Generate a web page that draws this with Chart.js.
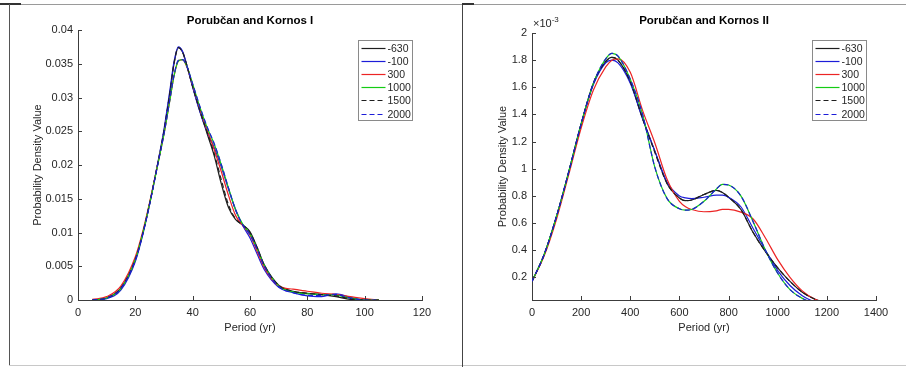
<!DOCTYPE html>
<html>
<head>
<meta charset="utf-8">
<script src="https://cdn.jsdelivr.net/npm/chart.js@4.4.0/dist/chart.umd.min.js"></script>
<style>
  html, body { margin: 0; padding: 0; background: #fff; }
  #wrap { position: relative; width: 906px; height: 367px; overflow: hidden; background: #fff; }
  .pane { position: absolute; top: 0; }
  .rule { position: absolute; }
</style>
</head>
<body>
<div id="wrap">
  <div class="pane" style="left:0;"><canvas id="chartI" width="462" height="367"></canvas></div>
  <div class="pane" style="left:462px;"><canvas id="chartII" width="444" height="367"></canvas></div>
  <div class="rule" style="left:9px; top:4px; width:897px; height:1px; background:#9a9a9a;"></div>
  <div class="rule" style="left:0; top:3px; width:21px; height:2px; background:#333;"></div>
  <div class="rule" style="left:9px; top:4px; width:1px; height:362px; background:#555;"></div>
  <div class="rule" style="left:9px; top:365px; width:897px; height:1px; background:#c8c8c8;"></div>
  <div class="rule" style="left:462px; top:4px; width:1px; height:363px; background:#444;"></div>
  <div class="rule" style="left:462px; top:3px; width:12px; height:2px; background:#333;"></div>
</div>
<script>
// Porubčan and Kornos I: period (yr) vs probability density
const periodsI = [5, 10, 15, 20, 22.5, 25, 27.5, 30, 32, 33.5, 35, 36.5, 38, 40, 42.5, 45, 47.5, 50, 52.5, 55, 57.5, 60, 62.5, 65, 70, 75, 80, 85, 90, 95, 100, 105];
const pdfI_m630 = [0, 0.0003, 0.0018, 0.0060, 0.0097, 0.0143, 0.0195, 0.0250, 0.0305, 0.0350, 0.0374, 0.0367, 0.0347, 0.0316, 0.0280, 0.0247, 0.0214, 0.0172, 0.0137, 0.0119, 0.0111, 0.0101, 0.0078, 0.0052, 0.0022, 0.0013, 0.0010, 0.0008, 0.0005, 0.0001, 0, 0];
const pdfI_m100 = [0, 0.0002, 0.0015, 0.0057, 0.0095, 0.0142, 0.0196, 0.0253, 0.0309, 0.0353, 0.0375, 0.0368, 0.0347, 0.0315, 0.0279, 0.0250, 0.0226, 0.0197, 0.0164, 0.0134, 0.0110, 0.0092, 0.0068, 0.0045, 0.0019, 0.0011, 0.0006, 0.0005, 0.0009, 0.0004, 0, 0];
const pdfI_300  = [0.0001, 0.0005, 0.0021, 0.0064, 0.0100, 0.0145, 0.0195, 0.0246, 0.0295, 0.0332, 0.0354, 0.0356, 0.0345, 0.0318, 0.0283, 0.0252, 0.0223, 0.0190, 0.0155, 0.0125, 0.0110, 0.0096, 0.0072, 0.0048, 0.0021, 0.0016, 0.0013, 0.0010, 0.0008, 0.0005, 0.0002, 0];
const pdfI_1000 = [0, 0.0003, 0.0017, 0.0060, 0.0097, 0.0143, 0.0194, 0.0246, 0.0295, 0.0332, 0.0354, 0.0356, 0.0346, 0.0320, 0.0286, 0.0256, 0.0231, 0.0200, 0.0166, 0.0133, 0.0112, 0.0098, 0.0076, 0.0051, 0.0021, 0.0012, 0.0009, 0.0008, 0.0007, 0.0003, 0, 0];
const pdfI_1500 = [0, 0.0003, 0.0018, 0.0060, 0.0097, 0.0143, 0.0195, 0.0251, 0.0306, 0.0351, 0.0374, 0.0367, 0.0347, 0.0316, 0.0281, 0.0249, 0.0217, 0.0178, 0.0141, 0.0120, 0.0111, 0.0100, 0.0077, 0.0051, 0.0022, 0.0013, 0.0010, 0.0008, 0.0006, 0.0002, 0, 0];
const pdfI_2000 = [0, 0.0003, 0.0017, 0.0059, 0.0096, 0.0142, 0.0194, 0.0246, 0.0296, 0.0333, 0.0355, 0.0356, 0.0346, 0.0320, 0.0287, 0.0257, 0.0232, 0.0201, 0.0166, 0.0133, 0.0111, 0.0097, 0.0075, 0.0050, 0.0020, 0.0011, 0.0007, 0.0007, 0.0008, 0.0003, 0, 0];

// Porubčan and Kornos II: density in units of 1e-3
const periodsII = [0, 50, 100, 150, 200, 250, 300, 325, 350, 400, 450, 500, 550, 600, 625, 650, 700, 750, 775, 800, 850, 900, 950, 1000, 1050, 1100, 1150, 1200];
const pdfII_m630 = [0.17, 0.37, 0.65, 0.98, 1.33, 1.63, 1.79, 1.82, 1.80, 1.64, 1.37, 1.13, 0.89, 0.785, 0.765, 0.77, 0.81, 0.84, 0.825, 0.79, 0.70, 0.53, 0.39, 0.27, 0.17, 0.09, 0.04, 0.01];
const pdfII_m100 = [0.17, 0.37, 0.65, 0.98, 1.33, 1.62, 1.78, 1.80, 1.78, 1.63, 1.37, 1.13, 0.90, 0.80, 0.785, 0.78, 0.79, 0.805, 0.805, 0.79, 0.72, 0.56, 0.40, 0.25, 0.14, 0.065, 0.02, 0.0];
const pdfII_300  = [0.17, 0.36, 0.63, 0.96, 1.30, 1.58, 1.75, 1.80, 1.81, 1.71, 1.43, 1.19, 0.92, 0.76, 0.72, 0.70, 0.683, 0.69, 0.70, 0.70, 0.68, 0.63, 0.49, 0.33, 0.20, 0.10, 0.04, 0.01];
const pdfII_1000 = [0.17, 0.37, 0.65, 0.98, 1.33, 1.63, 1.81, 1.85, 1.83, 1.66, 1.40, 1.01, 0.78, 0.705, 0.695, 0.70, 0.76, 0.85, 0.885, 0.88, 0.80, 0.61, 0.40, 0.23, 0.11, 0.045, 0.01, 0.0];
const pdfII_1500 = [0.17, 0.37, 0.65, 0.98, 1.33, 1.63, 1.79, 1.82, 1.80, 1.64, 1.37, 1.12, 0.89, 0.785, 0.765, 0.77, 0.81, 0.84, 0.825, 0.79, 0.70, 0.53, 0.39, 0.27, 0.17, 0.09, 0.04, 0.01];
const pdfII_2000 = [0.17, 0.37, 0.65, 0.98, 1.33, 1.63, 1.81, 1.85, 1.83, 1.66, 1.40, 1.01, 0.78, 0.705, 0.695, 0.70, 0.76, 0.85, 0.885, 0.88, 0.80, 0.61, 0.40, 0.23, 0.11, 0.045, 0.01, 0.0];

const epochLabels = ['-630', '-100', '300', '1000', '1500', '2000'];
const lineColors = ['#1e1e1e', '#1c1cd8', '#ec2424', '#14cc14', '#1e1e1e', '#1c1cd8'];
const lineDashes = [[], [], [], [], [5, 3], [5, 3]];

const FONT = '"Liberation Sans", Arial, Helvetica, sans-serif';
const TEXT = '#262626';

function toPoints(xs, ys) {
  return xs.map((x, i) => ({ x: x, y: ys[i] }));
}

function buildDatasets(xs, series) {
  return series.map((ys, i) => ({
    label: epochLabels[i],
    data: toPoints(xs, ys),
    borderColor: lineColors[i],
    borderDash: lineDashes[i],
    borderWidth: 1.2,
    pointRadius: 0,
    fill: false,
    cubicInterpolationMode: 'monotone',
    order: series.length - i
  }));
}

// inward tick marks, title, exponent note and boxed legend
const matlabLook = {
  id: 'matlabLook',
  afterDraw(chart, args, opts) {
    const ctx = chart.ctx;
    const a = chart.chartArea;
    const xs = chart.scales.x, ys = chart.scales.y;
    ctx.save();

    ctx.strokeStyle = '#3c3c3c';
    ctx.lineWidth = 1;
    ctx.beginPath();
    xs.ticks.forEach(t => {
      const px = Math.round(xs.getPixelForValue(t.value)) + 0.5;
      ctx.moveTo(px, a.bottom);
      ctx.lineTo(px, a.bottom - 4);
    });
    ys.ticks.forEach(t => {
      const py = Math.round(ys.getPixelForValue(t.value)) + 0.5;
      ctx.moveTo(a.left, py);
      ctx.lineTo(a.left + 4, py);
    });
    ctx.stroke();

    ctx.fillStyle = '#000';
    ctx.font = 'bold 11.5px ' + FONT;
    ctx.textAlign = 'center';
    ctx.textBaseline = 'middle';
    ctx.fillText(opts.title, (a.left + a.right) / 2, 21);

    if (opts.exponent) {
      ctx.fillStyle = TEXT;
      ctx.textAlign = 'left';
      ctx.textBaseline = 'alphabetic';
      ctx.font = '11px ' + FONT;
      ctx.fillText('\u00d710', a.left + 1, 27);
      const w = ctx.measureText('\u00d710').width;
      ctx.font = '8px ' + FONT;
      ctx.fillText(opts.exponent, a.left + 1 + w, 21.5);
    }

    const bw = 54, bh = 80;
    const bx = Math.round(a.right - 10 - bw) + 0.5, by = 40.5;
    ctx.fillStyle = '#fff';
    ctx.fillRect(bx, by, bw, bh);
    ctx.strokeStyle = '#8a8a8a';
    ctx.lineWidth = 1;
    ctx.strokeRect(bx, by, bw, bh);
    ctx.font = '10.5px ' + FONT;
    ctx.textAlign = 'left';
    ctx.textBaseline = 'middle';
    chart.data.datasets.forEach((ds, i) => {
      const ly = Math.round(by + 7.5 + i * 13.1) + 0.5;
      ctx.strokeStyle = ds.borderColor;
      ctx.setLineDash(ds.borderDash);
      ctx.lineWidth = 1.2;
      ctx.beginPath();
      ctx.moveTo(bx + 3, ly);
      ctx.lineTo(bx + 27, ly);
      ctx.stroke();
      ctx.setLineDash([]);
      ctx.fillStyle = TEXT;
      ctx.fillText(ds.label, bx + 29, ly + 0.5);
    });
    ctx.restore();
  }
};

function makeChart(canvasId, cfg) {
  return new Chart(document.getElementById(canvasId), {
    type: 'line',
    data: { datasets: cfg.datasets },
    options: {
      responsive: false,
      animation: false,
      layout: { padding: cfg.padding },
      plugins: {
        legend: { display: false },
        tooltip: { enabled: false },
        matlabLook: { title: cfg.title, exponent: cfg.exponent }
      },
      scales: {
        x: {
          type: 'linear',
          min: cfg.xMin,
          max: cfg.xMax,
          afterFit: s => { s.height = 40; },
          border: { display: true, color: '#3c3c3c', width: 1 },
          grid: { drawOnChartArea: false, drawTicks: false },
          ticks: {
            stepSize: cfg.xStep,
            padding: 6,
            maxRotation: 0,
            autoSkip: false,
            color: TEXT,
            font: { family: FONT, size: 11 },
            callback: v => String(v)
          },
          title: {
            display: true,
            text: 'Period (yr)',
            color: TEXT,
            font: { family: FONT, size: 11 },
            padding: { top: 0, bottom: 5.4 }
          }
        },
        y: {
          type: 'linear',
          min: cfg.yMin,
          max: cfg.yMax,
          afterFit: s => { s.width = cfg.yWidth; },
          afterBuildTicks: s => { s.ticks = cfg.yTicks.map(v => ({ value: v })); },
          border: { display: true, color: '#3c3c3c', width: 1 },
          grid: { drawOnChartArea: false, drawTicks: false },
          ticks: {
            padding: 5,
            color: TEXT,
            font: { family: FONT, size: 11 },
            callback: v => String(Number(v.toFixed(4)))
          },
          title: {
            display: true,
            text: 'Probability Density Value',
            color: TEXT,
            font: { family: FONT, size: 11 },
            padding: { top: cfg.yTitlePad, bottom: 0 }
          }
        }
      }
    },
    plugins: [matlabLook]
  });
}

const yTicksI = [0, 0.005, 0.01, 0.015, 0.02, 0.025, 0.03, 0.035, 0.04];
const yTicksII = [0.2, 0.4, 0.6, 0.8, 1, 1.2, 1.4, 1.6, 1.8, 2];

makeChart('chartI', {
  title: 'Porubčan and Kornos I',
  datasets: buildDatasets(periodsI, [pdfI_m630, pdfI_m100, pdfI_300, pdfI_1000, pdfI_1500, pdfI_2000]),
  padding: { left: 0, top: 30, right: 40, bottom: 27 },
  xMin: 0, xMax: 120, xStep: 20,
  yMin: 0, yMax: 0.04, yTicks: yTicksI,
  yWidth: 78, yTitlePad: 31
});

makeChart('chartII', {
  title: 'Porubčan and Kornos II',
  exponent: '-3',
  datasets: buildDatasets(periodsII, [pdfII_m630, pdfII_m100, pdfII_300, pdfII_1000, pdfII_1500, pdfII_2000]),
  padding: { left: 0, top: 33, right: 30, bottom: 27 },
  xMin: 0, xMax: 1400, xStep: 200,
  yMin: 0.033, yMax: 2, yTicks: yTicksII,
  yWidth: 70, yTitlePad: 34
});
</script>
</body>
</html>
